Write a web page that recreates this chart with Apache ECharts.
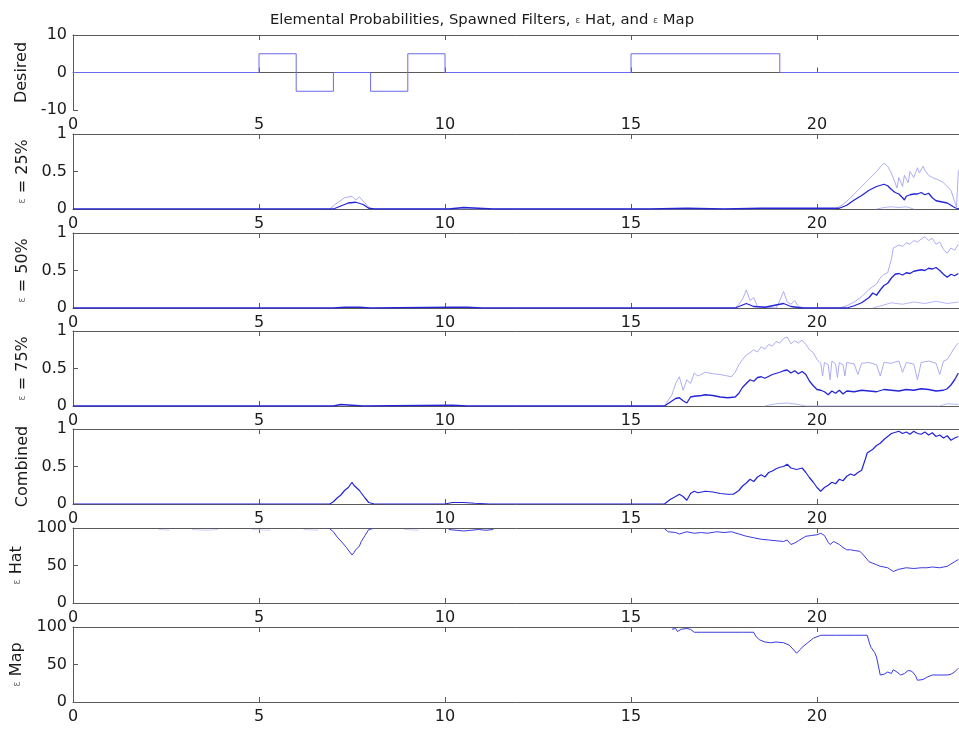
<!DOCTYPE html>
<html>
<head>
<meta charset="utf-8">
<script src="https://cdn.jsdelivr.net/npm/echarts@6/dist/echarts.min.js"></script>
<style>html,body{margin:0;padding:0;background:#fff}#c{width:959px;height:731px}</style>
</head>
<body>
<div id="c"></div>
<script>
// ---------- data ----------
const titleText = "Elemental Probabilities, Spawned Filters, ε Hat, and ε Map";
const panelNames = ["Desired", "ε = 25%", "ε = 50%", "ε = 75%", "Combined", "ε Hat", "ε Map"];
const xTicks = [0, 5, 10, 15, 20, 25];
const yRanges = [[-10, 10, 10], [0, 1, 0.5], [0, 1, 0.5], [0, 1, 0.5], [0, 1, 0.5], [0, 100, 50], [0, 100, 50]];

const desired = [[0,0],[5,0],[5,5],[6,5],[6,-5],[7,-5],[7,0],[8,0],[8,-5],[9,-5],[9,5],[10,5],[10,0],[15,0],[15,5],[19,5],[19,0],[24,0]];

const p25main = [[0,0],[7.0,0],[7.2,0.04],[7.4,0.08],[7.6,0.09],[7.8,0.06],[7.95,0.01],[8.1,0],[10.1,0],[10.3,0.01],[10.5,0.02],[10.9,0.01],[11.3,0],[15.5,0],[16.5,0.01],[17.5,0],[18.5,0.01],[20.6,0.01],[20.8,0.05],[21.0,0.12],[21.2,0.18],[21.4,0.25],[21.6,0.3],[21.8,0.33],[21.9,0.31],[22.0,0.26],[22.1,0.22],[22.2,0.2],[22.3,0.15],[22.35,0.12],[22.4,0.17],[22.5,0.19],[22.6,0.2],[22.7,0.2],[22.8,0.22],[22.9,0.19],[23.0,0.21],[23.1,0.15],[23.2,0.11],[23.3,0.1],[23.4,0.09],[23.5,0.08],[23.6,0.05],[23.7,0.02],[23.8,0.0],[23.9,0.03]];
const p25faint = [[6.9,0],[7.1,0.08],[7.3,0.15],[7.5,0.17],[7.6,0.12],[7.7,0.16],[7.9,0.05],[8.0,0],[20.5,0],[20.7,0.06],[20.9,0.15],[21.1,0.25],[21.3,0.35],[21.5,0.45],[21.6,0.5],[21.7,0.56],[21.8,0.61],[21.9,0.57],[22.0,0.48],[22.1,0.35],[22.15,0.28],[22.2,0.42],[22.3,0.3],[22.35,0.45],[22.45,0.35],[22.5,0.5],[22.6,0.42],[22.7,0.55],[22.75,0.48],[22.85,0.57],[22.9,0.52],[23.0,0.45],[23.1,0.42],[23.2,0.4],[23.3,0.38],[23.4,0.35],[23.5,0.3],[23.6,0.25],[23.7,0.1],[23.75,0.03],[23.8,0.5],[23.85,0.55]];
const p25low = [[21.6,0],[21.8,0.02],[22.0,0.03],[22.2,0.02],[22.4,0.03],[22.6,0]];

const p50main = [[0,0],[7.0,0],[7.3,0.01],[7.7,0.01],[8.0,0],[10.2,0.01],[10.6,0.01],[11.0,0],[17.8,0],[18.1,0.06],[18.3,0.02],[18.6,0.01],[19.1,0.06],[19.3,0.02],[19.6,0],[20.8,0],[21.0,0.03],[21.2,0.07],[21.4,0.14],[21.5,0.2],[21.6,0.17],[21.7,0.24],[21.8,0.3],[21.9,0.33],[22.0,0.4],[22.1,0.45],[22.2,0.46],[22.3,0.44],[22.4,0.47],[22.5,0.46],[22.6,0.49],[22.7,0.5],[22.8,0.51],[22.9,0.5],[23.0,0.53],[23.1,0.52],[23.2,0.54],[23.3,0.5],[23.4,0.45],[23.5,0.41],[23.6,0.45],[23.7,0.43],[23.8,0.46]];
const p50faint = [[17.8,0],[17.9,0.05],[18.0,0.12],[18.1,0.24],[18.2,0.1],[18.3,0.14],[18.4,0.02],[18.9,0],[19.0,0.1],[19.1,0.22],[19.2,0.08],[19.3,0.05],[19.4,0.1],[19.5,0.02],[19.7,0],[20.6,0],[20.8,0.03],[21.0,0.08],[21.2,0.15],[21.4,0.25],[21.6,0.32],[21.7,0.4],[21.8,0.45],[21.9,0.47],[22.0,0.65],[22.05,0.8],[22.1,0.78],[22.2,0.84],[22.3,0.82],[22.4,0.87],[22.5,0.85],[22.6,0.9],[22.7,0.88],[22.8,0.92],[22.9,0.95],[23.0,0.9],[23.1,0.93],[23.2,0.85],[23.3,0.88],[23.4,0.78],[23.5,0.73],[23.6,0.8],[23.7,0.77],[23.8,0.85]];
const p50low = [[21.5,0],[21.8,0.04],[22.0,0.07],[22.3,0.05],[22.6,0.08],[22.9,0.06],[23.2,0.09],[23.5,0.06],[23.8,0.08]];

const p75main = [[0,0],[7.0,0],[7.2,0.02],[7.5,0.01],[7.8,0],[10.2,0.01],[10.6,0],[15.9,0],[16.05,0.05],[16.2,0.1],[16.3,0.11],[16.4,0.07],[16.5,0.04],[16.6,0.12],[16.7,0.13],[16.9,0.14],[17.0,0.15],[17.2,0.14],[17.4,0.12],[17.6,0.11],[17.8,0.12],[17.9,0.17],[18.0,0.25],[18.1,0.3],[18.2,0.35],[18.3,0.33],[18.4,0.38],[18.5,0.39],[18.6,0.37],[18.8,0.42],[19.0,0.45],[19.1,0.47],[19.2,0.48],[19.3,0.44],[19.4,0.47],[19.5,0.43],[19.6,0.46],[19.7,0.42],[19.8,0.33],[19.9,0.27],[20.0,0.22],[20.1,0.21],[20.2,0.19],[20.3,0.15],[20.4,0.2],[20.5,0.17],[20.6,0.21],[20.7,0.16],[20.8,0.2],[21.0,0.19],[21.2,0.21],[21.4,0.2],[21.6,0.19],[21.8,0.22],[22.0,0.21],[22.2,0.2],[22.4,0.22],[22.6,0.21],[22.8,0.23],[23.0,0.22],[23.2,0.2],[23.4,0.21],[23.5,0.23],[23.6,0.28],[23.7,0.35],[23.8,0.44]];
const p75faint = [[15.9,0],[16.1,0.15],[16.2,0.3],[16.3,0.39],[16.4,0.21],[16.5,0.35],[16.6,0.3],[16.7,0.44],[16.8,0.4],[17.0,0.45],[17.2,0.43],[17.4,0.42],[17.6,0.4],[17.7,0.39],[17.8,0.45],[17.9,0.55],[18.0,0.62],[18.1,0.68],[18.2,0.71],[18.3,0.75],[18.4,0.72],[18.5,0.79],[18.6,0.76],[18.7,0.82],[18.8,0.8],[18.9,0.86],[19.0,0.84],[19.1,0.9],[19.2,0.92],[19.3,0.83],[19.4,0.87],[19.5,0.84],[19.6,0.88],[19.7,0.82],[19.8,0.75],[19.9,0.71],[20.0,0.62],[20.1,0.57],[20.15,0.4],[20.2,0.58],[20.3,0.55],[20.35,0.35],[20.4,0.6],[20.5,0.56],[20.55,0.38],[20.6,0.58],[20.7,0.55],[20.75,0.4],[20.8,0.58],[21.0,0.56],[21.1,0.42],[21.2,0.57],[21.4,0.58],[21.6,0.55],[21.7,0.4],[21.8,0.58],[22.0,0.57],[22.2,0.6],[22.3,0.45],[22.4,0.58],[22.6,0.56],[22.7,0.35],[22.8,0.58],[23.0,0.6],[23.2,0.57],[23.3,0.42],[23.4,0.6],[23.5,0.62],[23.6,0.7],[23.7,0.78],[23.8,0.84]];
const p75low = [[18.6,0],[18.9,0.03],[19.2,0.04],[19.5,0.02],[19.7,0],[23.3,0],[23.5,0.03],[23.8,0.02]];

const combined = [[0,0],[6.9,0],[7.0,0.03],[7.1,0.08],[7.2,0.12],[7.3,0.18],[7.4,0.22],[7.5,0.29],[7.55,0.25],[7.6,0.26],[7.7,0.18],[7.75,0.16],[7.85,0.08],[7.95,0.02],[8.1,0],[10.0,0],[10.2,0.02],[10.5,0.02],[10.8,0.01],[11.2,0],[15.9,0],[16.05,0.06],[16.2,0.1],[16.3,0.13],[16.4,0.1],[16.5,0.05],[16.6,0.14],[16.7,0.17],[16.8,0.15],[17.0,0.17],[17.2,0.16],[17.4,0.14],[17.6,0.13],[17.75,0.13],[17.9,0.18],[18.0,0.24],[18.1,0.28],[18.2,0.33],[18.3,0.3],[18.4,0.36],[18.5,0.39],[18.6,0.36],[18.7,0.42],[18.8,0.44],[18.9,0.47],[19.0,0.49],[19.1,0.5],[19.2,0.53],[19.3,0.48],[19.45,0.46],[19.6,0.48],[19.7,0.42],[19.8,0.35],[19.9,0.29],[20.0,0.22],[20.1,0.17],[20.2,0.22],[20.3,0.25],[20.4,0.29],[20.5,0.27],[20.6,0.33],[20.7,0.31],[20.8,0.37],[20.9,0.4],[21.0,0.38],[21.1,0.42],[21.2,0.45],[21.3,0.6],[21.35,0.68],[21.5,0.73],[21.6,0.78],[21.7,0.81],[21.8,0.86],[21.9,0.9],[22.0,0.94],[22.05,0.96],[22.2,0.97],[22.3,0.94],[22.4,0.96],[22.5,0.93],[22.6,0.97],[22.7,0.94],[22.8,0.93],[22.9,0.96],[23.0,0.92],[23.1,0.95],[23.2,0.9],[23.3,0.92],[23.4,0.88],[23.5,0.91],[23.6,0.85],[23.65,0.83],[23.7,0.88],[23.8,0.9]];

const epsHat = [[6.9,99],[7.0,95],[7.1,88],[7.25,80],[7.35,74],[7.5,64],[7.55,67],[7.6,71],[7.7,76],[7.75,82],[7.85,90],[7.95,98],[8.05,99],[8.1,null],[10.1,98],[10.3,97],[10.5,96],[10.7,97],[10.9,98],[11.1,97],[11.3,98],[11.4,null],[15.9,99],[16.0,95],[16.2,94],[16.3,92],[16.5,95],[16.7,93],[16.9,94],[17.05,93],[17.3,95],[17.5,94],[17.7,95],[17.9,92],[18.1,89],[18.3,87],[18.5,85],[18.7,84],[18.9,83],[19.1,82],[19.2,84],[19.3,78],[19.4,80],[19.5,83],[19.7,89],[19.85,90],[20.0,91],[20.1,93],[20.2,90],[20.3,81],[20.35,78],[20.45,82],[20.5,82],[20.6,78],[20.7,74],[20.8,71],[20.9,71],[21.0,70],[21.15,69],[21.25,64],[21.4,55],[21.5,53],[21.6,51],[21.7,49],[21.8,48],[21.9,47],[22.05,42],[22.2,45],[22.4,47],[22.6,46],[22.8,47],[22.95,47],[23.1,48],[23.3,47],[23.5,49],[23.6,52],[23.7,55],[23.8,58]];
const epsHatFaint = [[2.3,98],[2.6,97],[2.8,null],[3.2,98],[3.6,97],[3.9,98],[4.1,null],[4.8,98],[5.3,97],[5.6,null],[6.2,98],[6.6,97],[6.8,null],[8.9,98],[9.3,97],[9.5,null]];

const epsMap = [[16.1,97],[16.2,98],[16.25,94],[16.35,97],[16.5,98],[16.6,97],[16.7,93],[16.9,93],[17.5,93],[18.0,93],[18.3,93],[18.35,88],[18.45,83],[18.6,80],[18.75,79],[18.9,80],[19.1,79],[19.25,76],[19.4,68],[19.45,65],[19.55,70],[19.6,73],[19.75,79],[19.9,85],[20.0,87],[20.1,89],[20.5,89],[21.0,89],[21.35,89],[21.4,80],[21.45,73],[21.55,66],[21.6,60],[21.65,48],[21.7,36],[21.8,37],[21.9,40],[22.0,38],[22.05,43],[22.15,40],[22.25,36],[22.35,38],[22.45,42],[22.55,41],[22.6,43],[22.65,35],[22.7,29],[22.85,30],[22.95,33],[23.1,36],[23.3,36],[23.5,36],[23.6,37],[23.7,40],[23.8,45]];

// ---------- chart ----------
const panelTops = [35, 134, 233, 331, 429, 528, 627];
const panelH = 75;
const AXC = '#5a5a5a';
const TXT = '#1a1a1a';
const FONT = 'DejaVu Sans';

const grids = [], xAxes = [], yAxes = [], series = [];
panelTops.forEach((t, i) => {
  grids.push({ left: 73, top: t, height: panelH, width: 930, containLabel: false, outerBoundsMode: 'none' });
  const common = { type: 'value', gridIndex: i, min: 0, max: 25, interval: 5, splitLine: { show: false },
    axisLine: { lineStyle: { color: AXC, width: 1 } }, axisTick: { inside: true, length: 5, lineStyle: { color: AXC } } };
  xAxes.push(Object.assign({}, common, { position: 'bottom',
    axisLabel: { color: TXT, fontFamily: FONT, fontSize: 16, margin: 7, hideOverlap: false, formatter: v => xTicks.includes(v) ? String(v) : '' } }));
  xAxes.push(Object.assign({}, common, { position: 'top', axisLabel: { show: false } }));
  const r = yRanges[i];
  const nameGap = (i >= 5) ? 48 : 40;
  const rich = { e: { fontSize: 10, color: '#777', fontFamily: FONT }, n: { fontSize: 16, color: TXT, fontFamily: FONT } };
  const nm = panelNames[i].replace(/^ε(.*)$/, (m, rest) => '{e|ε}{n|' + rest + '}');
  yAxes.push({ type: 'value', gridIndex: i, min: r[0], max: r[1], interval: r[2], splitLine: { show: false },
    axisLine: { show: true, lineStyle: { color: AXC, width: 1 } }, axisTick: { show: true, inside: true, length: 5, lineStyle: { color: AXC } },
    axisLabel: { color: TXT, fontFamily: FONT, fontSize: 16, margin: 6 },
    name: panelNames[i].startsWith('ε') ? nm : panelNames[i], nameLocation: 'middle', nameGap: nameGap, nameRotate: 90,
    nameTextStyle: { color: TXT, fontFamily: FONT, fontSize: 16, rich: rich } });
});

function line(gi, data, color, width) {
  series.push({ type: 'line', xAxisIndex: gi * 2, yAxisIndex: gi, data: data, symbol: 'none', connectNulls: false,
    lineStyle: { color: color, width: width }, animation: false, silent: true });
}
const MAIN = '#2525d8', FAINT = '#a4a4f2', LIGHT = '#6a6aee';
line(0, desired, LIGHT, 1);
line(1, p25low, FAINT, 0.8); line(1, p25faint, FAINT, 0.9); line(1, p25main, MAIN, 1.3);
line(2, p50low, FAINT, 0.8); line(2, p50faint, FAINT, 0.9); line(2, p50main, MAIN, 1.3);
line(3, p75low, FAINT, 0.8); line(3, p75faint, FAINT, 0.9); line(3, p75main, MAIN, 1.3);
line(4, combined, MAIN, 1.2);
line(5, epsHatFaint, '#c4c4f6', 0.8); line(5, epsHat, '#3a3ae0', 1);
line(6, epsMap, '#3a3ae0', 1);

const chart = echarts.init(document.getElementById('c'), null, { renderer: 'canvas' });
chart.setOption({
  backgroundColor: '#fff',
  animation: false,
  title: { text: '{n|Elemental Probabilities, Spawned Filters, }{e|ε}{n| Hat, and }{e|ε}{n| Map}', left: 477, top: 8, textAlign: 'center',
    textStyle: { fontWeight: 'normal', rich: { n: { fontFamily: FONT, fontSize: 14.8, fontWeight: 'normal', color: TXT }, e: { fontFamily: FONT, fontSize: 9.5, fontWeight: 'normal', color: '#555' } } } },
  grid: grids, xAxis: xAxes, yAxis: yAxes, series: series
});
</script>
</body>
</html>
